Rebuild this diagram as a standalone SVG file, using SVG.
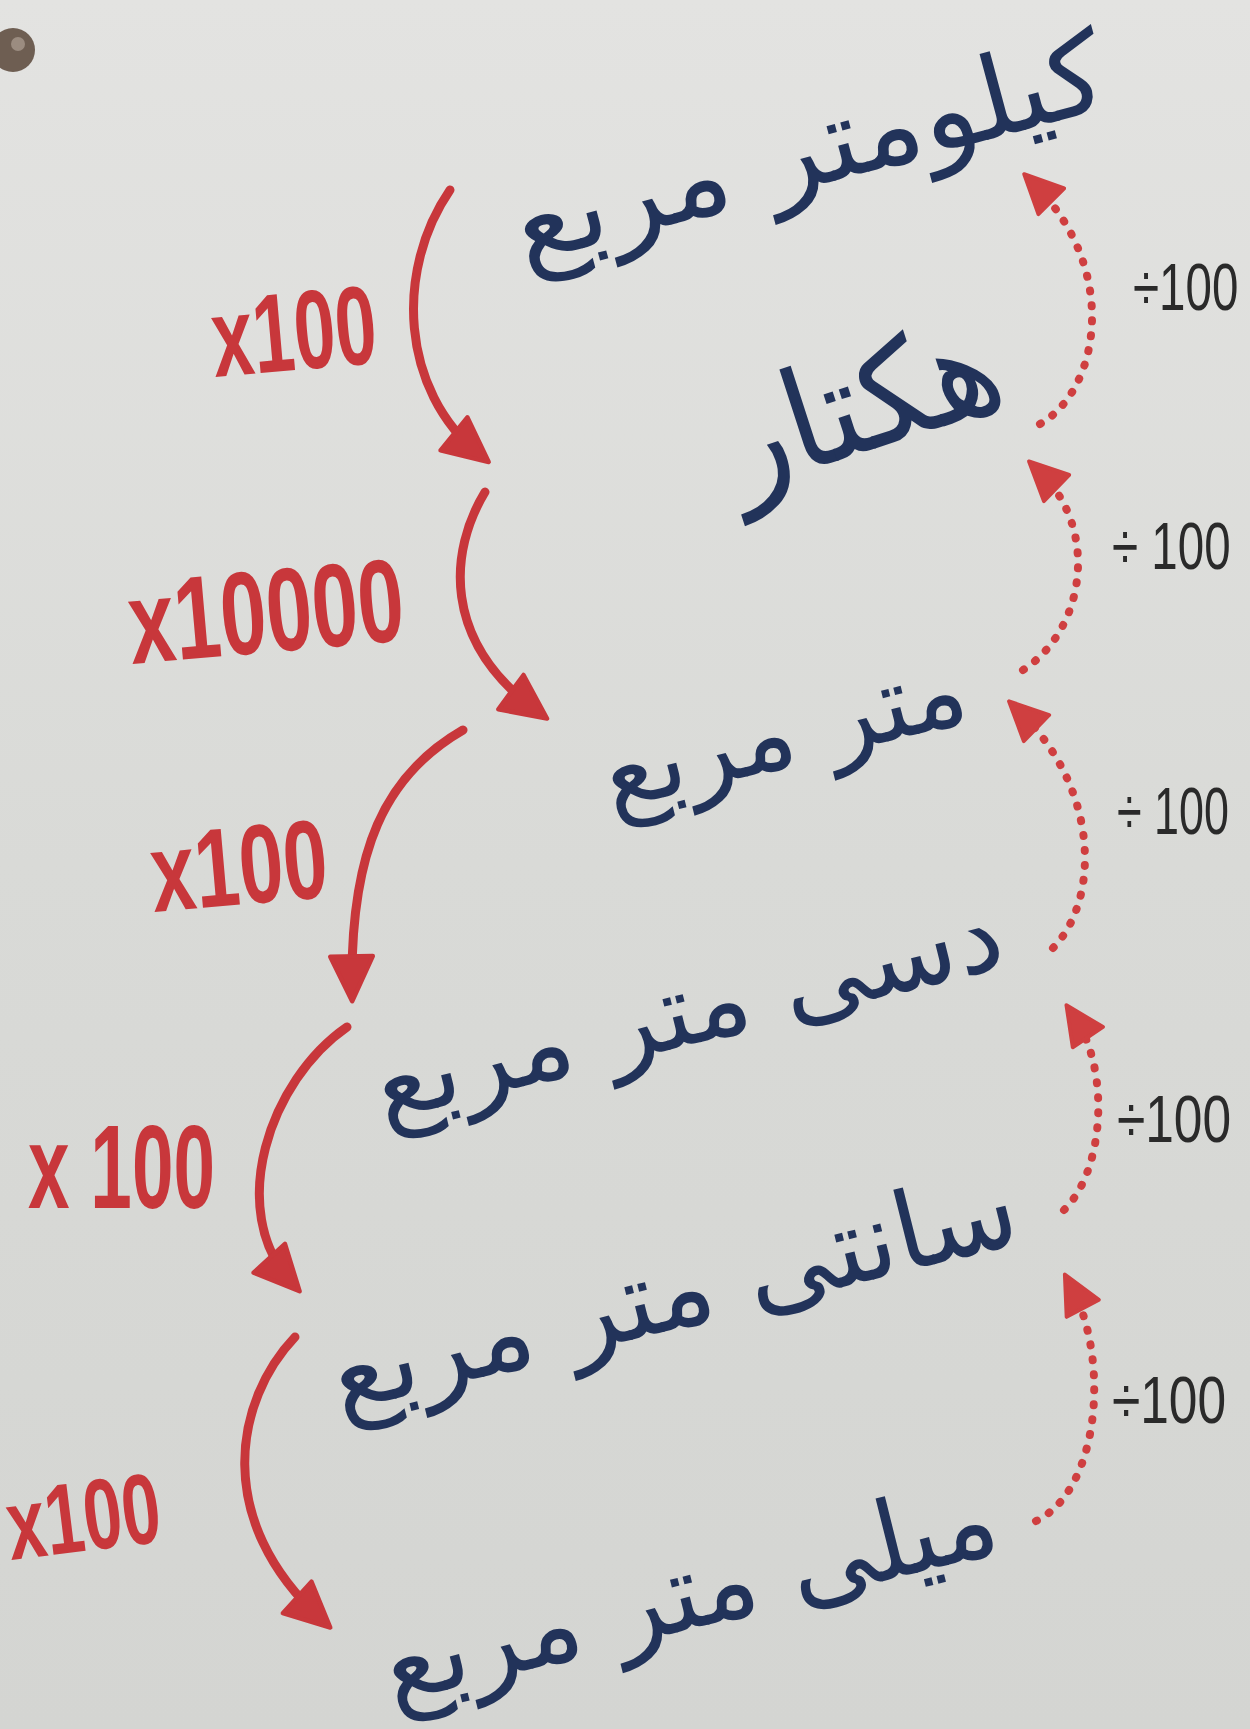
<svg xmlns="http://www.w3.org/2000/svg" width="1250" height="1729" viewBox="0 0 1250 1729">
<defs>
<linearGradient id="bg" x1="0" y1="0" x2="0" y2="1">
<stop offset="0" stop-color="#e3e3e1"/>
<stop offset="0.5" stop-color="#d9dad7"/>
<stop offset="1" stop-color="#d4d5d2"/>
</linearGradient>
<marker id="ah" viewBox="0 0 50 50" refX="36" refY="25" markerWidth="56" markerHeight="56" markerUnits="userSpaceOnUse" orient="auto">
<path d="M6,6 L46,25 L6,44 z" fill="#c8373b" stroke="#c8373b" stroke-width="4" stroke-linejoin="round"/>
</marker>
<marker id="ahd" viewBox="0 0 50 50" refX="30" refY="25" markerWidth="48" markerHeight="48" markerUnits="userSpaceOnUse" orient="auto">
<path d="M6,6 L46,25 L6,44 z" fill="#cf3f40" stroke="#cf3f40" stroke-width="4" stroke-linejoin="round"/>
</marker>
</defs>
<style>
.fa{font-family:"DejaVu Sans","Noto Sans",sans-serif;fill:#22335a;text-anchor:middle}
.mul{font-family:"Liberation Sans","DejaVu Sans",sans-serif;font-weight:bold;fill:#c8373b}
.div{font-family:"Liberation Sans","DejaVu Sans",sans-serif;fill:#2a2a2a;font-size:66px}
.solid{fill:none;stroke:#c8373b;stroke-width:9;stroke-linecap:round;marker-end:url(#ah)}
.dot{fill:none;stroke:#cf3f40;stroke-width:8;stroke-linecap:round;stroke-dasharray:1 14;marker-end:url(#ahd)}
</style>
<rect width="1250" height="1729" fill="url(#bg)"/>
<g id="pin">
<circle cx="13" cy="50" r="22" fill="#6e5e52"/>
<circle cx="18" cy="44" r="7" fill="#9b8c80"/>
</g>

<g id="connectors">
<path class="solid" d="M450,190 C395,270 400,390 480,455"/>
<path class="solid" d="M485,492 C450,550 440,640 538,712"/>
<path class="solid" d="M463,730 C385,775 350,850 352,990"/>
<path class="solid" d="M347,1027 C270,1080 225,1210 292,1283"/>
<path class="solid" d="M295,1337 C235,1400 212,1520 322,1620"/>
<path class="dot" d="M1040,424 C1100,390 1120,270 1035,185"/>
<path class="dot" d="M1023,670 C1085,630 1100,530 1040,472"/>
<path class="dot" d="M1053,948 C1100,900 1100,790 1020,712"/>
<path class="dot" d="M1064,1210 C1105,1170 1110,1070 1075,1018"/>
<path class="dot" d="M1036,1521 C1100,1490 1110,1360 1072,1288"/>
</g>

<g id="n1"><text class="fa" transform="translate(812,162) rotate(-15)" y="24" font-size="112" textLength="610" lengthAdjust="spacingAndGlyphs">کیلومتر مربع</text></g>
<g id="n2"><text class="fa" transform="translate(866,420) rotate(-18)" y="30" font-size="138" textLength="285" lengthAdjust="spacingAndGlyphs">هکتار</text></g>
<g id="n3"><text class="fa" transform="translate(786,742) rotate(-14)" y="24" font-size="104" textLength="372" lengthAdjust="spacingAndGlyphs">متر مربع</text></g>
<g id="n4"><text class="fa" transform="translate(690,1020) rotate(-14)" y="24" font-size="104" textLength="645" lengthAdjust="spacingAndGlyphs">دسی متر مربع</text></g>
<g id="n5"><text class="fa" transform="translate(676,1304) rotate(-14)" y="24" font-size="108" textLength="705" lengthAdjust="spacingAndGlyphs">سانتی متر مربع</text></g>
<g id="n6"><text class="fa" transform="translate(692,1604) rotate(-14)" y="24" font-size="108" textLength="630" lengthAdjust="spacingAndGlyphs">میلی متر مربع</text></g>

<g id="mult-labels">
<text class="mul" transform="translate(215,377) rotate(-5)" font-size="112" textLength="165" lengthAdjust="spacingAndGlyphs">x100</text>
<text class="mul" transform="translate(132,664) rotate(-5)" font-size="118" textLength="276" lengthAdjust="spacingAndGlyphs">x10000</text>
<text class="mul" transform="translate(154,912) rotate(-5)" font-size="112" textLength="177" lengthAdjust="spacingAndGlyphs">x100</text>
<text class="mul" transform="translate(28,1208)" font-size="118" textLength="187" lengthAdjust="spacingAndGlyphs">x 100</text>
<text class="mul" transform="translate(11,1560) rotate(-7)" font-size="100" textLength="154" lengthAdjust="spacingAndGlyphs">x100</text>
</g>
<g id="div-labels">
<text class="div" transform="translate(1133,310) scale(0.72,1)">÷100</text>
<text class="div" transform="translate(1112,569) scale(0.72,1)">÷ 100</text>
<text class="div" transform="translate(1117,834) scale(0.68,1)">÷ 100</text>
<text class="div" transform="translate(1117,1142) scale(0.78,1)">÷100</text>
<text class="div" transform="translate(1112,1423) scale(0.78,1)">÷100</text>
</g>
</svg>
